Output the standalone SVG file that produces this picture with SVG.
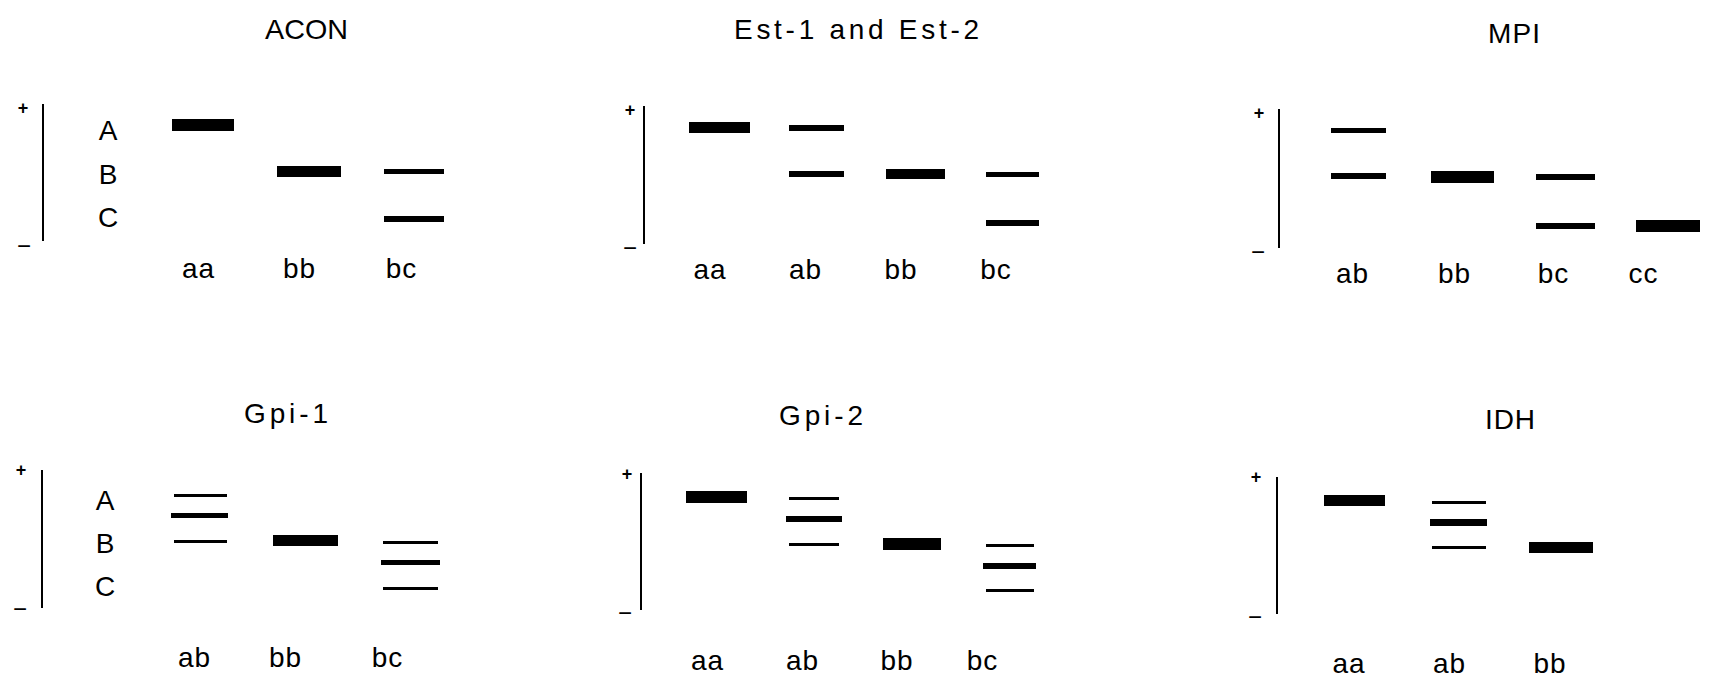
<svg xmlns="http://www.w3.org/2000/svg" width="1709" height="684" viewBox="0 0 1709 684">
<style>
text{font-family:"Liberation Sans","DejaVu Sans",sans-serif;fill:#000}
.t{font-size:28px}
.g{font-size:28px;text-anchor:middle;letter-spacing:1px}
.l{font-size:28px;text-anchor:middle}
.p{font-size:18px;font-weight:bold;text-anchor:middle}
.m{font-size:24px;text-anchor:middle}
.ax{stroke:#000;stroke-width:2;fill:none}
rect{fill:#000}
</style>
<rect width="1709" height="684" fill="#fff" style="fill:#fff"/>
<g id="acon">
<text class="t" x="265" y="39" textLength="83" lengthAdjust="spacingAndGlyphs">ACON</text>
<text class="p" x="23" y="114">+</text>
<line class="ax" x1="43" y1="104" x2="43" y2="241"/>
<text class="m" x="24" y="254">−</text>
<text class="l" x="108" y="140">A</text>
<text class="l" x="108" y="184">B</text>
<text class="l" x="108" y="227">C</text>
<rect x="172" y="119" width="62" height="12"/>
<rect x="277" y="166" width="64" height="11"/>
<rect x="384" y="169" width="60" height="5"/>
<rect x="384" y="216" width="60" height="6"/>
<text class="g" x="198.5" y="278">aa</text>
<text class="g" x="299.5" y="278">bb</text>
<text class="g" x="401.5" y="278">bc</text>
</g>
<g id="est">
<text class="t" x="734" y="39" textLength="245" lengthAdjust="spacing">Est-1 and Est-2</text>
<text class="p" x="630" y="116">+</text>
<line class="ax" x1="644" y1="106" x2="644" y2="244"/>
<text class="m" x="630" y="256">−</text>
<rect x="689" y="122" width="61" height="11"/>
<rect x="789" y="125" width="55" height="6"/>
<rect x="789" y="171" width="55" height="6"/>
<rect x="886" y="169" width="59" height="10"/>
<rect x="986" y="172" width="53" height="5"/>
<rect x="986" y="220" width="53" height="6"/>
<text class="g" x="710" y="279">aa</text>
<text class="g" x="805.5" y="279">ab</text>
<text class="g" x="901" y="279">bb</text>
<text class="g" x="996" y="279">bc</text>
</g>
<g id="mpi">
<text class="t" x="1488" y="43" textLength="52" lengthAdjust="spacing">MPI</text>
<text class="p" x="1259" y="119">+</text>
<line class="ax" x1="1279" y1="109" x2="1279" y2="248"/>
<text class="m" x="1258" y="260">−</text>
<rect x="1331" y="128" width="55" height="5"/>
<rect x="1331" y="173" width="55" height="6"/>
<rect x="1431" y="171" width="63" height="12"/>
<rect x="1536" y="174" width="59" height="6"/>
<rect x="1536" y="223" width="59" height="6"/>
<rect x="1636" y="220" width="64" height="12"/>
<text class="g" x="1352.5" y="283">ab</text>
<text class="g" x="1454.5" y="283">bb</text>
<text class="g" x="1553.5" y="283">bc</text>
<text class="g" x="1643.5" y="283">cc</text>
</g>
<g id="gpi1">
<text class="t" x="244" y="423" textLength="84" lengthAdjust="spacing">Gpi-1</text>
<text class="p" x="21" y="476">+</text>
<line class="ax" x1="42" y1="470" x2="42" y2="608"/>
<text class="m" x="20" y="617">−</text>
<text class="l" x="105" y="510">A</text>
<text class="l" x="105" y="553">B</text>
<text class="l" x="105" y="596">C</text>
<rect x="174" y="494" width="53" height="3"/>
<rect x="171" y="513" width="57" height="5"/>
<rect x="174" y="540" width="53" height="3"/>
<rect x="273" y="535" width="65" height="11"/>
<rect x="383" y="541" width="55" height="3"/>
<rect x="381" y="560" width="59" height="5"/>
<rect x="383" y="587" width="55" height="3"/>
<text class="g" x="194.5" y="667">ab</text>
<text class="g" x="285.5" y="667">bb</text>
<text class="g" x="387.5" y="667">bc</text>
</g>
<g id="gpi2">
<text class="t" x="779" y="425" textLength="84" lengthAdjust="spacing">Gpi-2</text>
<text class="p" x="627" y="480">+</text>
<line class="ax" x1="641" y1="473" x2="641" y2="610"/>
<text class="m" x="625" y="621">−</text>
<rect x="686" y="491" width="61" height="12"/>
<rect x="789" y="497" width="50" height="3"/>
<rect x="786" y="516" width="56" height="6"/>
<rect x="789" y="543" width="50" height="3"/>
<rect x="883" y="538" width="58" height="12"/>
<rect x="986" y="544" width="48" height="3"/>
<rect x="983" y="563" width="53" height="6"/>
<rect x="986" y="589" width="48" height="3"/>
<text class="g" x="707.5" y="670">aa</text>
<text class="g" x="802.5" y="670">ab</text>
<text class="g" x="897" y="670">bb</text>
<text class="g" x="982.5" y="670">bc</text>
</g>
<g id="idh">
<text class="t" x="1485" y="429" textLength="50" lengthAdjust="spacing">IDH</text>
<text class="p" x="1256" y="483">+</text>
<line class="ax" x1="1277" y1="477" x2="1277" y2="614"/>
<text class="m" x="1255" y="625">−</text>
<rect x="1324" y="495" width="61" height="11"/>
<rect x="1432" y="501" width="54" height="3"/>
<rect x="1430" y="519" width="57" height="7"/>
<rect x="1432" y="546" width="54" height="3"/>
<rect x="1529" y="542" width="64" height="11"/>
<text class="g" x="1349" y="673">aa</text>
<text class="g" x="1449.5" y="673">ab</text>
<text class="g" x="1550" y="673">bb</text>
</g>
</svg>
